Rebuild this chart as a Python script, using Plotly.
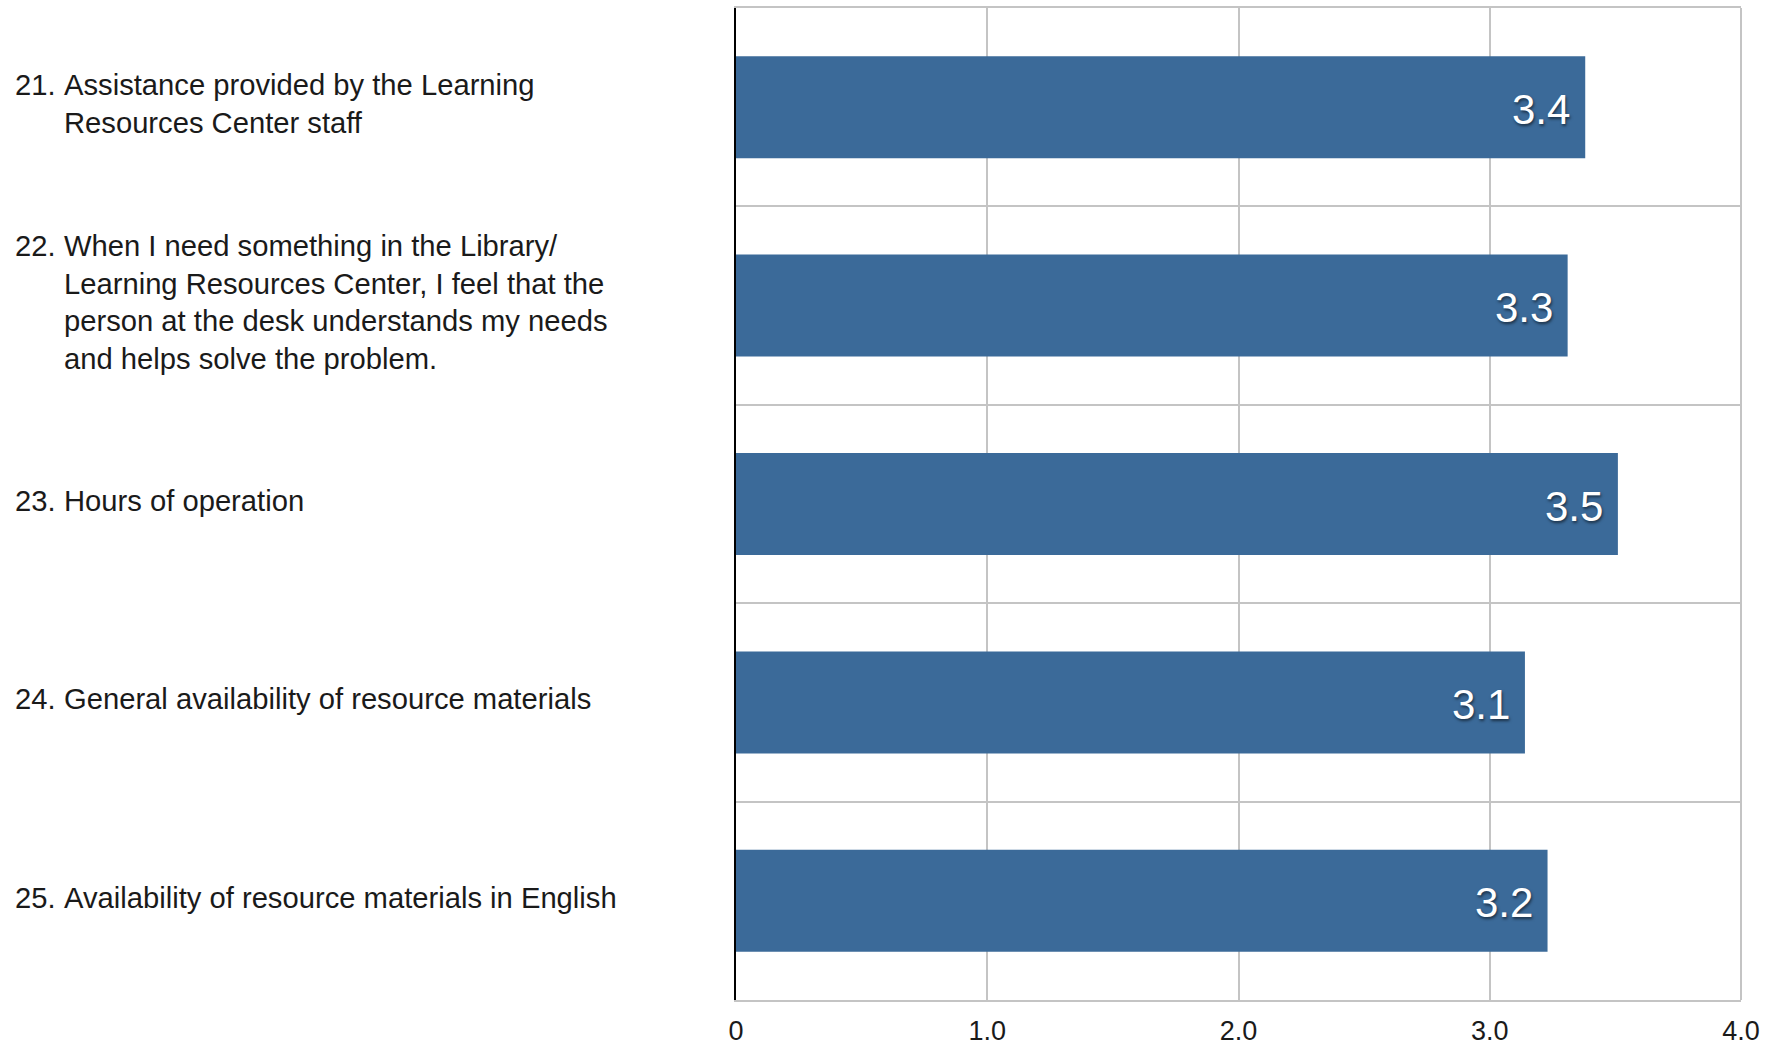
import plotly.graph_objects as go

numbers = ["21.", "22.", "23.", "24.", "25."]
label_lines = [
    ["Assistance provided by the Learning", "Resources Center staff"],
    ["When I need something in the Library/", "Learning Resources Center, I feel that the",
     "person at the desk understands my needs", "and helps solve the problem."],
    ["Hours of operation"],
    ["General availability of resource materials"],
    ["Availability of resource materials in English"],
]
values = [3.38, 3.31, 3.51, 3.14, 3.23]
value_text = ["3.4", "3.3", "3.5", "3.1", "3.2"]
x_tickvals = [0, 1, 2, 3, 4]
x_ticktext = ["0", "1.0", "2.0", "3.0", "4.0"]

W, H = 1773, 1049
ML, MR, MT, MB = 736, 32, 8, 49
PW = W - ML - MR
BAR_COLOR = "#3B6A99"
GRID = "#c4c4c4"
FONT = "Liberation Sans, Arial, Helvetica, sans-serif"

idx = list(range(len(values)))

fig = go.Figure()
fig.add_trace(go.Bar(
    x=values, y=idx, orientation="h", width=0.514,
    marker=dict(color=BAR_COLOR, line=dict(width=0)),
    hoverinfo="skip",
))

annotations = []
# value labels inside bar ends
for i, (v, t) in enumerate(zip(values, value_text)):
    annotations.append(dict(
        x=v, y=i, xref="x", yref="y", text=t, showarrow=False,
        xanchor="right", yanchor="middle", xshift=-13, yshift=-2,
        font=dict(family=FONT, size=42, color="white",
                  shadow="1px 2px 3px rgba(0,0,0,0.55)"),
    ))

# category labels on the left
line_h = 37.5
num_x = (13 - ML) / PW
txt_x = (62 - ML) / PW
for i, (num, lines) in enumerate(zip(numbers, label_lines)):
    n = len(lines)
    for k, line in enumerate(lines):
        shift = ((n - 1) / 2 - k) * line_h + 3
        if k == 0:
            annotations.append(dict(
                x=num_x, y=i, xref="paper", yref="y", text=num, showarrow=False,
                xanchor="left", yanchor="middle", yshift=shift,
                font=dict(family=FONT, size=29.2, color="#1a1a1a"),
            ))
        annotations.append(dict(
            x=txt_x, y=i, xref="paper", yref="y", text=line, showarrow=False,
            xanchor="left", yanchor="middle", yshift=shift,
            font=dict(family=FONT, size=29.2, color="#1a1a1a"),
        ))

# right border (gray)
shapes = [
    dict(type="line", xref="paper", yref="paper", x0=1, x1=1, y0=0, y1=1,
         line=dict(color=GRID, width=2)),
]

fig.update_layout(
    width=W, height=H,
    margin=dict(l=ML, r=MR, t=MT, b=MB, pad=0, autoexpand=False),
    plot_bgcolor="white", paper_bgcolor="white",
    showlegend=False,
    annotations=annotations,
    shapes=shapes,
    xaxis=dict(
        range=[0, 4], tickvals=x_tickvals, ticktext=x_ticktext,
        showgrid=True, gridcolor=GRID, gridwidth=2,
        showline=True, linecolor=GRID, linewidth=2, mirror=True,
        zeroline=False, ticks="", ticklabelstandoff=6, automargin=False,
        tickfont=dict(family=FONT, size=27, color="#1a1a1a"),
        fixedrange=True,
    ),
    yaxis=dict(
        range=[len(values) - 0.5, -0.5],
        tickvals=[i + 0.5 for i in idx[:-1]],
        showticklabels=False, ticks="", automargin=False,
        showgrid=True, gridcolor=GRID, gridwidth=2,
        showline=True, linecolor="black", linewidth=2, mirror=False,
        zeroline=False, fixedrange=True,
    ),
)

fig.write_html("out.html", config={"displayModeBar": False},
               post_script="document.body.style.margin='0';")
